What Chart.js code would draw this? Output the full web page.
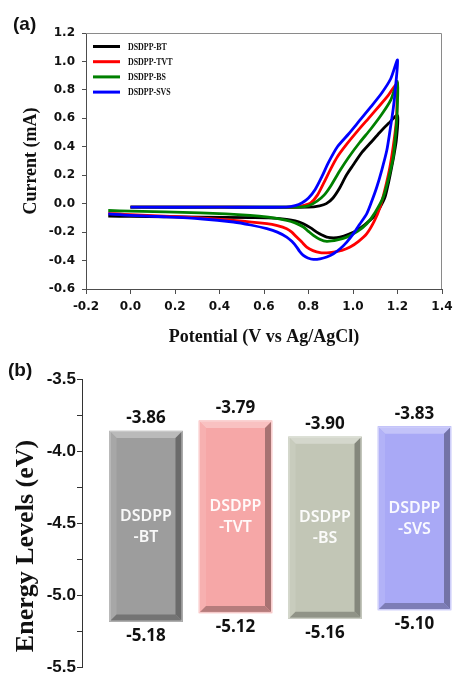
<!DOCTYPE html>
<html><head><meta charset="utf-8">
<script src="https://cdn.jsdelivr.net/npm/chart.js@4.4.0/dist/chart.umd.min.js"></script>
<style>
html,body{margin:0;padding:0;background:#fff;}
body{width:453px;height:679px;position:relative;overflow:hidden;}
#wa{position:absolute;left:0;top:0;width:453px;height:350px;}
#wb{position:absolute;left:0;top:340px;width:453px;height:339px;}
.pl{position:absolute;font:bold 19px "Liberation Sans",Arial,sans-serif;line-height:19px;color:#111;}
</style></head><body>
<div id="wa"><canvas id="ca" width="453" height="350"></canvas></div>
<div id="wb"><canvas id="cb" width="453" height="339"></canvas></div>
<div class="pl" style="left:13px;top:14px">(a)</div>
<div class="pl" style="left:8px;top:360px">(b)</div>
<script>
// ---------- data ----------
const materials = ['DSDPP-BT','DSDPP-TVT','DSDPP-BS','DSDPP-SVS'];
const seriesColors = ['#000000','#ff0000','#008000','#0000ff'];

// Panel (a): cyclic voltammograms (forward scan then reverse scan)
const btPotential = [0.00,0.50,0.80,0.85,0.88,0.91,0.94,0.97,1.00,1.04,1.08,1.12,1.16,1.20,
  1.195,1.185,1.174,1.16,1.144,1.12,1.092,1.055,1.017,0.98,0.942,0.912,0.882,0.86,0.837,0.81,0.777,0.74,0.702,0.62,0.538,0.313,0.00,-0.10];
const btCurrent = [-0.025,-0.025,-0.024,-0.015,0.0,0.04,0.11,0.20,0.27,0.36,0.43,0.50,0.565,0.62,
  0.45,0.35,0.258,0.15,0.046,-0.03,-0.094,-0.145,-0.188,-0.215,-0.235,-0.24,-0.235,-0.22,-0.20,-0.17,-0.141,-0.12,-0.11,-0.10,-0.098,-0.094,-0.09,-0.088];

const tvtPotential = [0.00,0.40,0.74,0.78,0.81,0.84,0.87,0.90,0.93,0.97,1.02,1.07,1.12,1.16,1.20,
  1.198,1.196,1.185,1.166,1.145,1.122,1.095,1.062,1.025,0.987,0.95,0.912,0.882,0.852,0.82,0.792,0.77,0.747,0.725,0.702,0.66,0.613,0.463,0.313,0.15,0.00,-0.10];
const tvtCurrent = [-0.025,-0.025,-0.024,-0.012,0.005,0.06,0.15,0.245,0.33,0.415,0.51,0.60,0.69,0.765,0.85,
  0.75,0.609,0.45,0.258,0.11,-0.024,-0.125,-0.211,-0.265,-0.305,-0.328,-0.34,-0.346,-0.345,-0.33,-0.305,-0.27,-0.235,-0.20,-0.176,-0.155,-0.141,-0.117,-0.10,-0.088,-0.078,-0.068];

const bsPotential = [0.00,0.40,0.76,0.80,0.84,0.87,0.90,0.94,0.98,1.03,1.08,1.13,1.17,1.20,
  1.20,1.195,1.188,1.181,1.16,1.136,1.10,1.062,1.02,0.972,0.93,0.882,0.85,0.822,0.80,0.777,0.74,0.702,0.62,0.538,0.313,0.00,-0.10];
const bsCurrent = [-0.025,-0.025,-0.024,-0.015,0.02,0.06,0.125,0.23,0.325,0.43,0.525,0.63,0.73,0.86,
  0.72,0.55,0.43,0.328,0.18,0.046,-0.06,-0.141,-0.195,-0.235,-0.255,-0.265,-0.25,-0.223,-0.195,-0.164,-0.135,-0.117,-0.095,-0.082,-0.065,-0.052,-0.048];

const svsPotential = [0.00,0.40,0.70,0.74,0.77,0.80,0.83,0.86,0.89,0.93,0.98,1.03,1.08,1.13,1.17,1.20,
  1.19,1.181,1.165,1.152,1.13,1.107,1.085,1.062,1.03,1.002,0.972,0.942,0.912,0.882,0.852,0.822,0.797,0.777,0.76,0.747,0.725,0.702,0.66,0.613,0.54,0.463,0.313,0.15,0.00,-0.10];
const svsCurrent = [-0.025,-0.025,-0.024,-0.014,0.005,0.04,0.10,0.19,0.29,0.40,0.49,0.585,0.68,0.78,0.88,1.01,
  0.80,0.67,0.50,0.375,0.24,0.117,0.02,-0.07,-0.145,-0.211,-0.27,-0.317,-0.352,-0.375,-0.388,-0.392,-0.382,-0.364,-0.335,-0.305,-0.265,-0.235,-0.20,-0.176,-0.15,-0.129,-0.106,-0.092,-0.082,-0.072];

const potentials = [btPotential, tvtPotential, bsPotential, svsPotential];
const currents = [btCurrent, tvtCurrent, bsCurrent, svsCurrent];

// Panel (b): energy levels
const lumoLevels = [-3.86,-3.79,-3.90,-3.83];
const homoLevels = [-5.18,-5.12,-5.16,-5.10];
const barFaceColors = ['#9d9d9d','#f6a7a7','#c2c6b6','#a9a9f6'];

// ---------- helpers ----------
const fmt1 = v => (Math.abs(v) < 1e-9 ? 0 : v).toFixed(1);
function mix(hex, t, w){
  const n = parseInt(hex.slice(1),16);
  let r = n>>16, g = (n>>8)&255, b = n&255;
  r = Math.round(r+(t-r)*w); g = Math.round(g+(t-g)*w); b = Math.round(b+(t-b)*w);
  return 'rgb('+r+','+g+','+b+')';
}

// ---------- panel (a) plugins ----------
const frameA = {id:'frameA', beforeDatasetsDraw(chart){
  const {ctx, chartArea:{left,top,right,bottom}} = chart;
  ctx.save(); ctx.strokeStyle='#8a8a8a'; ctx.lineWidth=1;
  ctx.beginPath(); ctx.moveTo(left, top+0.5); ctx.lineTo(right-0.5, top+0.5); ctx.lineTo(right-0.5, bottom); ctx.stroke();
  ctx.restore();
}};
const legendA = {id:'legendA', afterDatasetsDraw(chart){
  const {ctx, chartArea} = chart;
  ctx.save();
  chart.data.datasets.forEach((ds,i)=>{
    const y = chartArea.top + 13.5 + i*15.2;
    ctx.strokeStyle = ds.borderColor; ctx.lineWidth = 3;
    ctx.beginPath(); ctx.moveTo(chartArea.left+7, y); ctx.lineTo(chartArea.left+34, y); ctx.stroke();
    ctx.save(); ctx.translate(chartArea.left+42, y); ctx.scale(0.72,1);
    ctx.font = 'bold 11px "Liberation Serif"'; ctx.fillStyle = '#111'; ctx.textBaseline = 'middle';
    ctx.fillText(ds.label, 0, 0.5); ctx.restore();
  });
  ctx.restore();
}};

new Chart(document.getElementById('ca'), {
  type:'scatter',
  data:{datasets: materials.map((name,i)=>({
    label:name,
    data: potentials[i].map((v,j)=>({x:v, y:currents[i][j]})),
    borderColor: seriesColors[i], backgroundColor: seriesColors[i],
    showLine:true, pointRadius:0, borderWidth:2.8, tension:0.25, fill:false, order:4-i
  }))},
  options:{
    responsive:false, animation:false,
    layout:{padding:{left:0,right:0,top:33,bottom:2}},
    plugins:{legend:{display:false}, tooltip:{enabled:false}},
    scales:{
      x:{type:'linear', min:-0.2, max:1.4,
        afterFit(s){ s.height = 59; s.paddingRight = 11; },
        ticks:{stepSize:0.2, callback:fmt1, autoSkip:false, maxRotation:0,
          font:{family:'"DejaVu Sans"', size:12, weight:'bold'}, color:'#111', padding:6},
        grid:{drawOnChartArea:false, tickLength:5, color:'#4d4d4d'},
        border:{color:'#4d4d4d'},
        title:{display:true, text:'Potential (V vs Ag/AgCl)', color:'#111',
          font:{family:'"Liberation Serif"', size:18, weight:'bold'}, padding:{top:0,bottom:0}}
      },
      y:{min:-0.6, max:1.2,
        afterFit(s){ s.width = 86; },
        ticks:{stepSize:0.2, callback:fmt1, autoSkip:false,
          font:{family:'"DejaVu Sans"', size:12, weight:'bold'}, color:'#111', padding:7},
        grid:{drawOnChartArea:false, tickLength:4, color:'#4d4d4d'},
        border:{color:'#4d4d4d'},
        title:{display:true, text:'Current (mA)', color:'#111',
          font:{family:'"Liberation Serif"', size:18, weight:'bold'}, padding:{top:21,bottom:0}}
      }
    }
  },
  plugins:[frameA, legendA]
});

// ---------- panel (b) plugins ----------
const bevelPlugin = {id:'bevel', afterDatasetsDraw(chart){
  const ctx = chart.ctx;
  const meta = chart.getDatasetMeta(0);
  meta.data.forEach((el,i)=>{
    const p = el.getProps(['x','y','base','width'], true);
    const L = p.x - p.width/2, R = p.x + p.width/2;
    const T = Math.min(p.y, p.base), B = Math.max(p.y, p.base);
    const b = 7, face = barFaceColors[i];
    const poly = (pts, c) => { ctx.beginPath(); ctx.moveTo(pts[0][0], pts[0][1]);
      for (let k=1;k<pts.length;k++) ctx.lineTo(pts[k][0], pts[k][1]);
      ctx.closePath(); ctx.fillStyle = c; ctx.fill(); };
    ctx.save();
    poly([[L,T],[R,T],[R-b,T+b],[L+b,T+b]], mix(face,255,0.30));
    poly([[L,T],[L+b,T+b],[L+b,B-b],[L,B]], mix(face,255,0.10));
    poly([[R,T],[R,B],[R-b,B-b],[R-b,T+b]], mix(face,0,0.32));
    poly([[L,B],[L+b,B-b],[R-b,B-b],[R,B]], mix(face,0,0.26));
    ctx.strokeStyle = mix(face,255,0.45); ctx.lineWidth = 1;
    ctx.strokeRect(L+0.5, T+0.5, p.width-1, B-T-1);
    // value labels
    ctx.fillStyle = '#111'; ctx.textAlign = 'center'; ctx.textBaseline = 'middle';
    ctx.font = 'bold 17px "Noto Sans"';
    ctx.fillText(lumoLevels[i].toFixed(2), p.x, T - 12.5);
    ctx.fillText(homoLevels[i].toFixed(2), p.x, B + 14.5);
    // name labels inside bar
    const parts = materials[i].split('-');
    const mid = (T + B) / 2;
    ctx.fillStyle = 'rgba(255,255,255,0.93)';
    ctx.font = '600 16px "Noto Sans"';
    ctx.fillText(parts[0], p.x, mid - 10);
    ctx.fillText('-' + parts[1], p.x, mid + 11);
    ctx.restore();
  });
}};
const yTitleB = {id:'yTitleB', afterDraw(chart){
  const ctx = chart.ctx;
  ctx.save(); ctx.translate(26.5, 206); ctx.rotate(-Math.PI/2);
  ctx.font = 'bold 26px "Liberation Serif"'; ctx.fillStyle = '#111';
  ctx.textAlign = 'center'; ctx.textBaseline = 'middle';
  ctx.fillText('Energy Levels (eV)', 0, 0);
  ctx.restore();
}};

new Chart(document.getElementById('cb'), {
  type:'bar',
  data:{datasets:[{
    label:'Energy levels',
    data: materials.map((m,i)=>({x:i+1, y:[homoLevels[i], lumoLevels[i]]})),
    backgroundColor: barFaceColors, borderWidth:0, barThickness:73, grouped:false
  }]},
  options:{
    responsive:false, animation:false,
    layout:{padding:{left:0,right:0,top:39,bottom:6}},
    plugins:{legend:{display:false}, tooltip:{enabled:false}},
    scales:{
      x:{type:'linear', display:false, min:0.285, max:4.43, offset:false},
      y:{min:-5.5, max:-3.5,
        afterFit(s){ s.width = 82; },
        ticks:{stepSize:0.25, autoSkip:false,
          callback: v => Math.abs(v*2 - Math.round(v*2)) < 1e-6 ? v.toFixed(1) : '',
          font:{family:'"Liberation Sans"', size:17, weight:'bold'}, color:'#111', padding:1},
        grid:{drawOnChartArea:false, tickLength:5, color:'#333'},
        border:{color:'#333'}
      }
    }
  },
  plugins:[bevelPlugin, yTitleB]
});
</script>
</body></html>
